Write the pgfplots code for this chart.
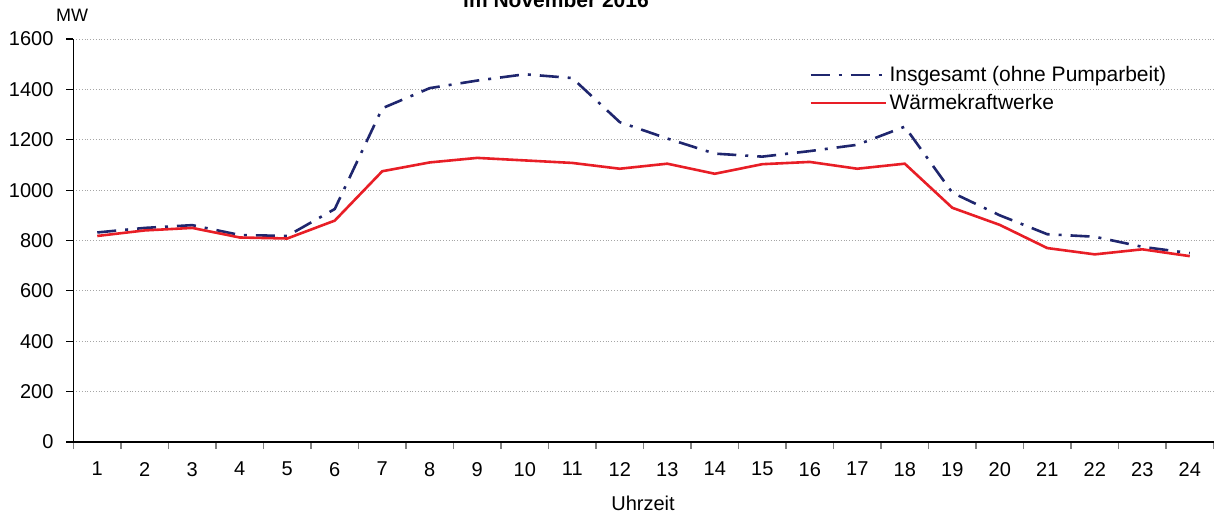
\documentclass[border=0pt]{standalone}
\usepackage{pgfplots}
\pgfplotsset{compat=1.18}
\usepackage{fontspec}
\setmainfont{Liberation Sans}
\definecolor{navyline}{RGB}{31,38,110}
\definecolor{redline}{RGB}{232,30,38}
\begin{document}
\begin{tikzpicture}
\begin{axis}[
  at={(36.75pt,-221pt)}, anchor=south west,
  scale only axis, width=570pt, height=201.5pt,
  xmin=0.5, xmax=24.5, ymin=0, ymax=1600,
  axis lines*=left,
  axis line style={-, black, line width=0.6pt},
  xtick={1,...,24},
  ytick={0,200,...,1600},
  minor xtick={0.5,1.5,...,24.5},
  tick align=outside,
  major tick length=3.5pt,
  minor tick length=3.5pt,
  xtick style={draw=none},
  minor x tick style={draw=gray, line width=0.6pt},
  ytick style={black, line width=0.6pt},
  ymajorgrids,
  grid style={densely dotted, gray!70, line width=0.5pt},
  /pgf/number format/assume math mode=true,
  /pgf/number format/1000 sep={},
  tick label style={font=\fontsize{10}{12}\selectfont},
  xticklabel style={yshift=-3pt},
  yticklabel style={xshift=-3pt},
  legend style={draw=none, fill=none, at={(0.64,0.95)}, anchor=north west,
    font=\fontsize{10.5}{12.6}\selectfont, row sep=2.5pt,
    nodes={inner sep=1.2pt}},
  legend cell align=left,
  legend image code/.code={\draw[#1] (0pt,0pt) -- (35pt,0pt); \path (0pt,0pt) -- (37.5pt,0pt);},
]
\addplot[navyline, line width=1.3pt, dash pattern=on 9.5pt off 4.5pt on 1.5pt off 4.5pt] coordinates {
(1,832) (2,850) (3,861) (4,822) (5,818) (6,925) (7,1325) (8,1405) (9,1435) (10,1460) (11,1445) (12,1270)
(13,1205) (14,1145) (15,1133) (16,1155) (17,1180) (18,1252) (19,990) (20,900) (21,825) (22,815) (23,775) (24,750)};
\addlegendentry{Insgesamt (ohne Pumparbeit)}
\addplot[redline, line width=1.3pt] coordinates {
(1,818) (2,840) (3,850) (4,812) (5,808) (6,879) (7,1075) (8,1110) (9,1128) (10,1118) (11,1108) (12,1085)
(13,1105) (14,1065) (15,1103) (16,1112) (17,1085) (18,1105) (19,930) (20,862) (21,770) (22,745) (23,765) (24,738)};
\addlegendentry{Wärmekraftwerke}
\end{axis}
\node[anchor=base, font=\bfseries\fontsize{10.5}{12}\selectfont] at (278pt,-3.5pt) {im November 2016};
\node[font=\fontsize{9}{11}\selectfont] at (36pt,-7.5pt) {MW};
\node[anchor=base, font=\fontsize{10}{12}\selectfont] at (321.5pt,-255pt) {Uhrzeit};
\pgfresetboundingbox
\path[use as bounding box] (0pt,0pt) rectangle (609pt,-257.5pt);
\end{tikzpicture}
\end{document}
